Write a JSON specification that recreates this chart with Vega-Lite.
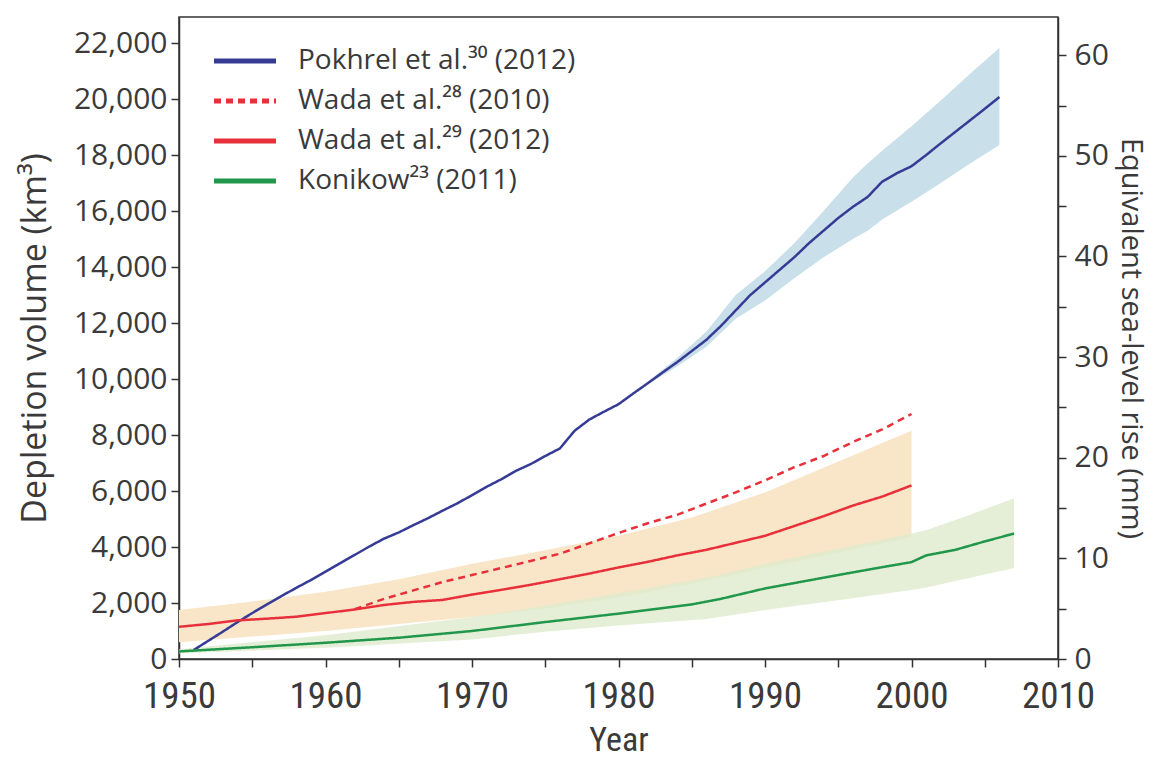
{
  "$schema": "https://vega.github.io/schema/vega-lite/v6.json",
  "width": 879,
  "height": 642,
  "autosize": "none",
  "padding": {"left": 179, "top": 17, "right": 103, "bottom": 101},
  "background": "white",
  "config": {
    "view": {"stroke": "#333333", "strokeWidth": 1.5},
    "axis": {"grid": false, "domainColor": "#333333", "domainWidth": 1.5, "tickColor": "#333333", "tickWidth": 1.5, "tickSize": 8, "labelColor": "#3a3a3a", "titleColor": "#3a3a3a", "titleFontWeight": "normal", "labelFont": "Open Sans", "titleFont": "Open Sans"}
  },
  "datasets": {
    "lines": [
      {"series": "Pokhrel et al.³⁰ (2012)", "year": 1951, "value": 320},
      {"series": "Pokhrel et al.³⁰ (2012)", "year": 1952, "value": 650},
      {"series": "Pokhrel et al.³⁰ (2012)", "year": 1953, "value": 980},
      {"series": "Pokhrel et al.³⁰ (2012)", "year": 1954, "value": 1320},
      {"series": "Pokhrel et al.³⁰ (2012)", "year": 1955, "value": 1640},
      {"series": "Pokhrel et al.³⁰ (2012)", "year": 1956, "value": 1950},
      {"series": "Pokhrel et al.³⁰ (2012)", "year": 1957, "value": 2250},
      {"series": "Pokhrel et al.³⁰ (2012)", "year": 1958, "value": 2540},
      {"series": "Pokhrel et al.³⁰ (2012)", "year": 1959, "value": 2820},
      {"series": "Pokhrel et al.³⁰ (2012)", "year": 1960, "value": 3120},
      {"series": "Pokhrel et al.³⁰ (2012)", "year": 1961, "value": 3420},
      {"series": "Pokhrel et al.³⁰ (2012)", "year": 1962, "value": 3720},
      {"series": "Pokhrel et al.³⁰ (2012)", "year": 1963, "value": 4020},
      {"series": "Pokhrel et al.³⁰ (2012)", "year": 1964, "value": 4300},
      {"series": "Pokhrel et al.³⁰ (2012)", "year": 1965, "value": 4520},
      {"series": "Pokhrel et al.³⁰ (2012)", "year": 1966, "value": 4780},
      {"series": "Pokhrel et al.³⁰ (2012)", "year": 1967, "value": 5030},
      {"series": "Pokhrel et al.³⁰ (2012)", "year": 1968, "value": 5300},
      {"series": "Pokhrel et al.³⁰ (2012)", "year": 1969, "value": 5560},
      {"series": "Pokhrel et al.³⁰ (2012)", "year": 1970, "value": 5850},
      {"series": "Pokhrel et al.³⁰ (2012)", "year": 1971, "value": 6150},
      {"series": "Pokhrel et al.³⁰ (2012)", "year": 1972, "value": 6420},
      {"series": "Pokhrel et al.³⁰ (2012)", "year": 1973, "value": 6720},
      {"series": "Pokhrel et al.³⁰ (2012)", "year": 1974, "value": 6960},
      {"series": "Pokhrel et al.³⁰ (2012)", "year": 1975, "value": 7250},
      {"series": "Pokhrel et al.³⁰ (2012)", "year": 1976, "value": 7520},
      {"series": "Pokhrel et al.³⁰ (2012)", "year": 1977, "value": 8150},
      {"series": "Pokhrel et al.³⁰ (2012)", "year": 1978, "value": 8550},
      {"series": "Pokhrel et al.³⁰ (2012)", "year": 1979, "value": 8830},
      {"series": "Pokhrel et al.³⁰ (2012)", "year": 1980, "value": 9100},
      {"series": "Pokhrel et al.³⁰ (2012)", "year": 1981, "value": 9480},
      {"series": "Pokhrel et al.³⁰ (2012)", "year": 1982, "value": 9850},
      {"series": "Pokhrel et al.³⁰ (2012)", "year": 1983, "value": 10230},
      {"series": "Pokhrel et al.³⁰ (2012)", "year": 1984, "value": 10600},
      {"series": "Pokhrel et al.³⁰ (2012)", "year": 1985, "value": 11000},
      {"series": "Pokhrel et al.³⁰ (2012)", "year": 1986, "value": 11400},
      {"series": "Pokhrel et al.³⁰ (2012)", "year": 1987, "value": 11900},
      {"series": "Pokhrel et al.³⁰ (2012)", "year": 1988, "value": 12450},
      {"series": "Pokhrel et al.³⁰ (2012)", "year": 1989, "value": 13000},
      {"series": "Pokhrel et al.³⁰ (2012)", "year": 1990, "value": 13450},
      {"series": "Pokhrel et al.³⁰ (2012)", "year": 1991, "value": 13900},
      {"series": "Pokhrel et al.³⁰ (2012)", "year": 1992, "value": 14350},
      {"series": "Pokhrel et al.³⁰ (2012)", "year": 1993, "value": 14850},
      {"series": "Pokhrel et al.³⁰ (2012)", "year": 1994, "value": 15300},
      {"series": "Pokhrel et al.³⁰ (2012)", "year": 1995, "value": 15750},
      {"series": "Pokhrel et al.³⁰ (2012)", "year": 1996, "value": 16150},
      {"series": "Pokhrel et al.³⁰ (2012)", "year": 1997, "value": 16500},
      {"series": "Pokhrel et al.³⁰ (2012)", "year": 1998, "value": 17050},
      {"series": "Pokhrel et al.³⁰ (2012)", "year": 1999, "value": 17350},
      {"series": "Pokhrel et al.³⁰ (2012)", "year": 2000, "value": 17600},
      {"series": "Pokhrel et al.³⁰ (2012)", "year": 2001, "value": 18000},
      {"series": "Pokhrel et al.³⁰ (2012)", "year": 2002, "value": 18420},
      {"series": "Pokhrel et al.³⁰ (2012)", "year": 2003, "value": 18830},
      {"series": "Pokhrel et al.³⁰ (2012)", "year": 2004, "value": 19240},
      {"series": "Pokhrel et al.³⁰ (2012)", "year": 2005, "value": 19650},
      {"series": "Pokhrel et al.³⁰ (2012)", "year": 2006, "value": 20070},
      {"series": "Wada et al.²⁸ (2010)", "year": 1962, "value": 1780},
      {"series": "Wada et al.²⁸ (2010)", "year": 1964, "value": 2150},
      {"series": "Wada et al.²⁸ (2010)", "year": 1966, "value": 2450},
      {"series": "Wada et al.²⁸ (2010)", "year": 1968, "value": 2750},
      {"series": "Wada et al.²⁸ (2010)", "year": 1970, "value": 3000},
      {"series": "Wada et al.²⁸ (2010)", "year": 1972, "value": 3250},
      {"series": "Wada et al.²⁸ (2010)", "year": 1974, "value": 3500},
      {"series": "Wada et al.²⁸ (2010)", "year": 1976, "value": 3760},
      {"series": "Wada et al.²⁸ (2010)", "year": 1978, "value": 4130},
      {"series": "Wada et al.²⁸ (2010)", "year": 1980, "value": 4500},
      {"series": "Wada et al.²⁸ (2010)", "year": 1982, "value": 4850},
      {"series": "Wada et al.²⁸ (2010)", "year": 1984, "value": 5150},
      {"series": "Wada et al.²⁸ (2010)", "year": 1986, "value": 5550},
      {"series": "Wada et al.²⁸ (2010)", "year": 1988, "value": 5950},
      {"series": "Wada et al.²⁸ (2010)", "year": 1990, "value": 6380},
      {"series": "Wada et al.²⁸ (2010)", "year": 1992, "value": 6850},
      {"series": "Wada et al.²⁸ (2010)", "year": 1994, "value": 7250},
      {"series": "Wada et al.²⁸ (2010)", "year": 1996, "value": 7750},
      {"series": "Wada et al.²⁸ (2010)", "year": 1998, "value": 8200},
      {"series": "Wada et al.²⁸ (2010)", "year": 2000, "value": 8750},
      {"series": "Wada et al.²⁹ (2012)", "year": 1950, "value": 1150},
      {"series": "Wada et al.²⁹ (2012)", "year": 1952, "value": 1250},
      {"series": "Wada et al.²⁹ (2012)", "year": 1954, "value": 1380},
      {"series": "Wada et al.²⁹ (2012)", "year": 1956, "value": 1440},
      {"series": "Wada et al.²⁹ (2012)", "year": 1958, "value": 1510},
      {"series": "Wada et al.²⁹ (2012)", "year": 1960, "value": 1640},
      {"series": "Wada et al.²⁹ (2012)", "year": 1962, "value": 1770},
      {"series": "Wada et al.²⁹ (2012)", "year": 1964, "value": 1930},
      {"series": "Wada et al.²⁹ (2012)", "year": 1966, "value": 2040},
      {"series": "Wada et al.²⁹ (2012)", "year": 1968, "value": 2110},
      {"series": "Wada et al.²⁹ (2012)", "year": 1970, "value": 2300},
      {"series": "Wada et al.²⁹ (2012)", "year": 1972, "value": 2470},
      {"series": "Wada et al.²⁹ (2012)", "year": 1974, "value": 2650},
      {"series": "Wada et al.²⁹ (2012)", "year": 1976, "value": 2850},
      {"series": "Wada et al.²⁹ (2012)", "year": 1978, "value": 3050},
      {"series": "Wada et al.²⁹ (2012)", "year": 1980, "value": 3270},
      {"series": "Wada et al.²⁹ (2012)", "year": 1982, "value": 3470},
      {"series": "Wada et al.²⁹ (2012)", "year": 1984, "value": 3700},
      {"series": "Wada et al.²⁹ (2012)", "year": 1986, "value": 3900},
      {"series": "Wada et al.²⁹ (2012)", "year": 1988, "value": 4150},
      {"series": "Wada et al.²⁹ (2012)", "year": 1990, "value": 4400},
      {"series": "Wada et al.²⁹ (2012)", "year": 1992, "value": 4750},
      {"series": "Wada et al.²⁹ (2012)", "year": 1994, "value": 5100},
      {"series": "Wada et al.²⁹ (2012)", "year": 1996, "value": 5480},
      {"series": "Wada et al.²⁹ (2012)", "year": 1998, "value": 5800},
      {"series": "Wada et al.²⁹ (2012)", "year": 2000, "value": 6200},
      {"series": "Konikow²³ (2011)", "year": 1950, "value": 270},
      {"series": "Konikow²³ (2011)", "year": 1955, "value": 420},
      {"series": "Konikow²³ (2011)", "year": 1960, "value": 580},
      {"series": "Konikow²³ (2011)", "year": 1965, "value": 760},
      {"series": "Konikow²³ (2011)", "year": 1970, "value": 1000},
      {"series": "Konikow²³ (2011)", "year": 1975, "value": 1320},
      {"series": "Konikow²³ (2011)", "year": 1980, "value": 1620},
      {"series": "Konikow²³ (2011)", "year": 1985, "value": 1950},
      {"series": "Konikow²³ (2011)", "year": 1987, "value": 2150},
      {"series": "Konikow²³ (2011)", "year": 1990, "value": 2520},
      {"series": "Konikow²³ (2011)", "year": 1995, "value": 3000},
      {"series": "Konikow²³ (2011)", "year": 1998, "value": 3280},
      {"series": "Konikow²³ (2011)", "year": 2000, "value": 3460},
      {"series": "Konikow²³ (2011)", "year": 2001, "value": 3700},
      {"series": "Konikow²³ (2011)", "year": 2003, "value": 3900},
      {"series": "Konikow²³ (2011)", "year": 2005, "value": 4200},
      {"series": "Konikow²³ (2011)", "year": 2007, "value": 4480}
    ],
    "bands": [
      {"band": "Pokhrel", "year": 1982, "lo": 9800, "hi": 9900},
      {"band": "Pokhrel", "year": 1984, "lo": 10450, "hi": 10750},
      {"band": "Pokhrel", "year": 1986, "lo": 11150, "hi": 11700},
      {"band": "Pokhrel", "year": 1988, "lo": 12150, "hi": 13000},
      {"band": "Pokhrel", "year": 1990, "lo": 12800, "hi": 13850},
      {"band": "Pokhrel", "year": 1992, "lo": 13600, "hi": 14850},
      {"band": "Pokhrel", "year": 1994, "lo": 14350, "hi": 16000},
      {"band": "Pokhrel", "year": 1996, "lo": 15000, "hi": 17200},
      {"band": "Pokhrel", "year": 1997, "lo": 15300, "hi": 17700},
      {"band": "Pokhrel", "year": 1998, "lo": 15700, "hi": 18150},
      {"band": "Pokhrel", "year": 2000, "lo": 16330, "hi": 19030},
      {"band": "Pokhrel", "year": 2002, "lo": 17000, "hi": 19950},
      {"band": "Pokhrel", "year": 2004, "lo": 17700, "hi": 20900},
      {"band": "Pokhrel", "year": 2006, "lo": 18360, "hi": 21820},
      {"band": "Wada", "year": 1950, "lo": 600, "hi": 1750},
      {"band": "Wada", "year": 1955, "lo": 800, "hi": 2050},
      {"band": "Wada", "year": 1960, "lo": 1000, "hi": 2400},
      {"band": "Wada", "year": 1965, "lo": 1250, "hi": 2850},
      {"band": "Wada", "year": 1970, "lo": 1500, "hi": 3400},
      {"band": "Wada", "year": 1975, "lo": 1800, "hi": 3880},
      {"band": "Wada", "year": 1980, "lo": 2200, "hi": 4400},
      {"band": "Wada", "year": 1985, "lo": 2700, "hi": 5050},
      {"band": "Wada", "year": 1990, "lo": 3250, "hi": 5950},
      {"band": "Wada", "year": 1995, "lo": 3800, "hi": 7050},
      {"band": "Wada", "year": 2000, "lo": 4350, "hi": 8150},
      {"band": "Konikow", "year": 1950, "lo": 200, "hi": 350},
      {"band": "Konikow", "year": 1960, "lo": 400, "hi": 850},
      {"band": "Konikow", "year": 1970, "lo": 700, "hi": 1500},
      {"band": "Konikow", "year": 1975, "lo": 975, "hi": 1900},
      {"band": "Konikow", "year": 1980, "lo": 1200, "hi": 2350},
      {"band": "Konikow", "year": 1986, "lo": 1430, "hi": 2900},
      {"band": "Konikow", "year": 1990, "lo": 1750, "hi": 3400},
      {"band": "Konikow", "year": 1995, "lo": 2100, "hi": 3950},
      {"band": "Konikow", "year": 2000, "lo": 2460, "hi": 4480},
      {"band": "Konikow", "year": 2001, "lo": 2550, "hi": 4600},
      {"band": "Konikow", "year": 2004, "lo": 2900, "hi": 5150},
      {"band": "Konikow", "year": 2007, "lo": 3250, "hi": 5740}
    ],
    "mm": [{"mm": 0}]
  },
  "layer": [
    {
      "layer": [
        {
          "data": {"name": "bands"},
          "transform": [{"filter": "datum.band === 'Pokhrel'"}],
          "mark": {"type": "area", "color": "#c9dfe9", "opacity": 1},
          "encoding": {
            "x": {"field": "year", "type": "quantitative"},
            "y": {"field": "lo", "type": "quantitative"},
            "y2": {"field": "hi"}
          }
        },
        {
          "data": {"name": "bands"},
          "transform": [{"filter": "datum.band === 'Wada'"}],
          "mark": {"type": "area", "color": "#f9e6c9", "opacity": 1},
          "encoding": {
            "x": {"field": "year", "type": "quantitative"},
            "y": {"field": "lo", "type": "quantitative"},
            "y2": {"field": "hi"}
          }
        },
        {
          "data": {"name": "bands"},
          "transform": [{"filter": "datum.band === 'Konikow'"}],
          "mark": {"type": "area", "color": "#dfebcd", "opacity": 0.8},
          "encoding": {
            "x": {"field": "year", "type": "quantitative"},
            "y": {"field": "lo", "type": "quantitative"},
            "y2": {"field": "hi"}
          }
        },
        {
          "data": {"name": "lines"},
          "mark": {"type": "line", "strokeWidth": 2.5},
          "encoding": {
            "x": {
              "field": "year", "type": "quantitative",
              "scale": {"domain": [1950, 2010], "nice": false, "zero": false},
              "axis": {
                "orient": "bottom",
                "values": [1950, 1955, 1960, 1965, 1970, 1975, 1980, 1985, 1990, 1995, 2000, 2005, 2010],
                "labelExpr": "datum.value % 10 === 0 ? datum.value : ''",
                "labelFont": "Roboto Condensed, Roboto",
                "labelFontSize": 37,
                "labelPadding": 11,
                "labelFlush": false,
                "labelOverlap": false,
                "title": "Year",
                "titleFont": "Roboto Condensed, Roboto",
                "titleFontSize": 34,
                "titlePadding": 9
              }
            },
            "y": {
              "field": "value", "type": "quantitative",
              "scale": {"domain": [0, 22930], "nice": false},
              "axis": {
                "orient": "left",
                "values": [0, 1000, 2000, 3000, 4000, 5000, 6000, 7000, 8000, 9000, 10000, 11000, 12000, 13000, 14000, 15000, 16000, 17000, 18000, 19000, 20000, 21000, 22000],
                "labelExpr": "datum.value % 2000 === 0 ? format(datum.value, ',') : ''",
                "labelFontSize": 30,
                "labelPadding": 4,
                "labelOverlap": false,
                "labelFlush": false,
                "title": "Depletion volume (km³)",
                "titleFontSize": 34,
                "titlePadding": 21
              }
            },
            "color": {
              "field": "series", "type": "nominal",
              "scale": {
                "domain": ["Pokhrel et al.³⁰ (2012)", "Wada et al.²⁸ (2010)", "Wada et al.²⁹ (2012)", "Konikow²³ (2011)"],
                "range": ["#363c96", "#e8303a", "#e8303a", "#20974a"]
              },
              "legend": {
                "title": null,
                "orient": "none",
                "legendX": 48,
                "legendY": 26,
                "symbolType": "M-2,0H2",
                "symbolSize": 961,
                "symbolStrokeWidth": 5,
                "labelFont": "Open Sans",
                "labelFontSize": 28,
                "labelColor": "#3a3a3a",
                "labelOffset": 35,
                "rowPadding": 8,
                "labelLimit": 500
              }
            },
            "strokeDash": {
              "field": "series", "type": "nominal",
              "scale": {
                "domain": ["Pokhrel et al.³⁰ (2012)", "Wada et al.²⁸ (2010)", "Wada et al.²⁹ (2012)", "Konikow²³ (2011)"],
                "range": [[1, 0], [7, 5], [1, 0], [1, 0]]
              },
              "legend": {
                "title": null,
                "orient": "none",
                "legendX": 48,
                "legendY": 26,
                "symbolType": "M-2,0H2",
                "symbolSize": 961,
                "symbolStrokeWidth": 5,
                "labelFont": "Open Sans",
                "labelFontSize": 28,
                "labelColor": "#3a3a3a",
                "labelOffset": 35,
                "rowPadding": 8,
                "labelLimit": 500
              }
            }
          }
        }
      ]
    },
    {
      "data": {"name": "mm"},
      "mark": {"type": "rule", "opacity": 0},
      "encoding": {
        "y": {
          "field": "mm", "type": "quantitative",
          "scale": {"domain": [0, 63.8], "nice": false},
          "axis": {
            "orient": "right",
            "values": [0, 5, 10, 15, 20, 25, 30, 35, 40, 45, 50, 55, 60],
            "labelExpr": "datum.value % 10 === 0 ? datum.value : ''",
            "labelFontSize": 30,
            "labelPadding": 8,
            "labelOverlap": false,
            "labelFlush": false,
            "title": "Equivalent sea-level rise (mm)",
            "titleFontSize": 29,
            "titlePadding": 7
          }
        }
      }
    }
  ],
  "resolve": {"scale": {"y": "independent"}}
}
